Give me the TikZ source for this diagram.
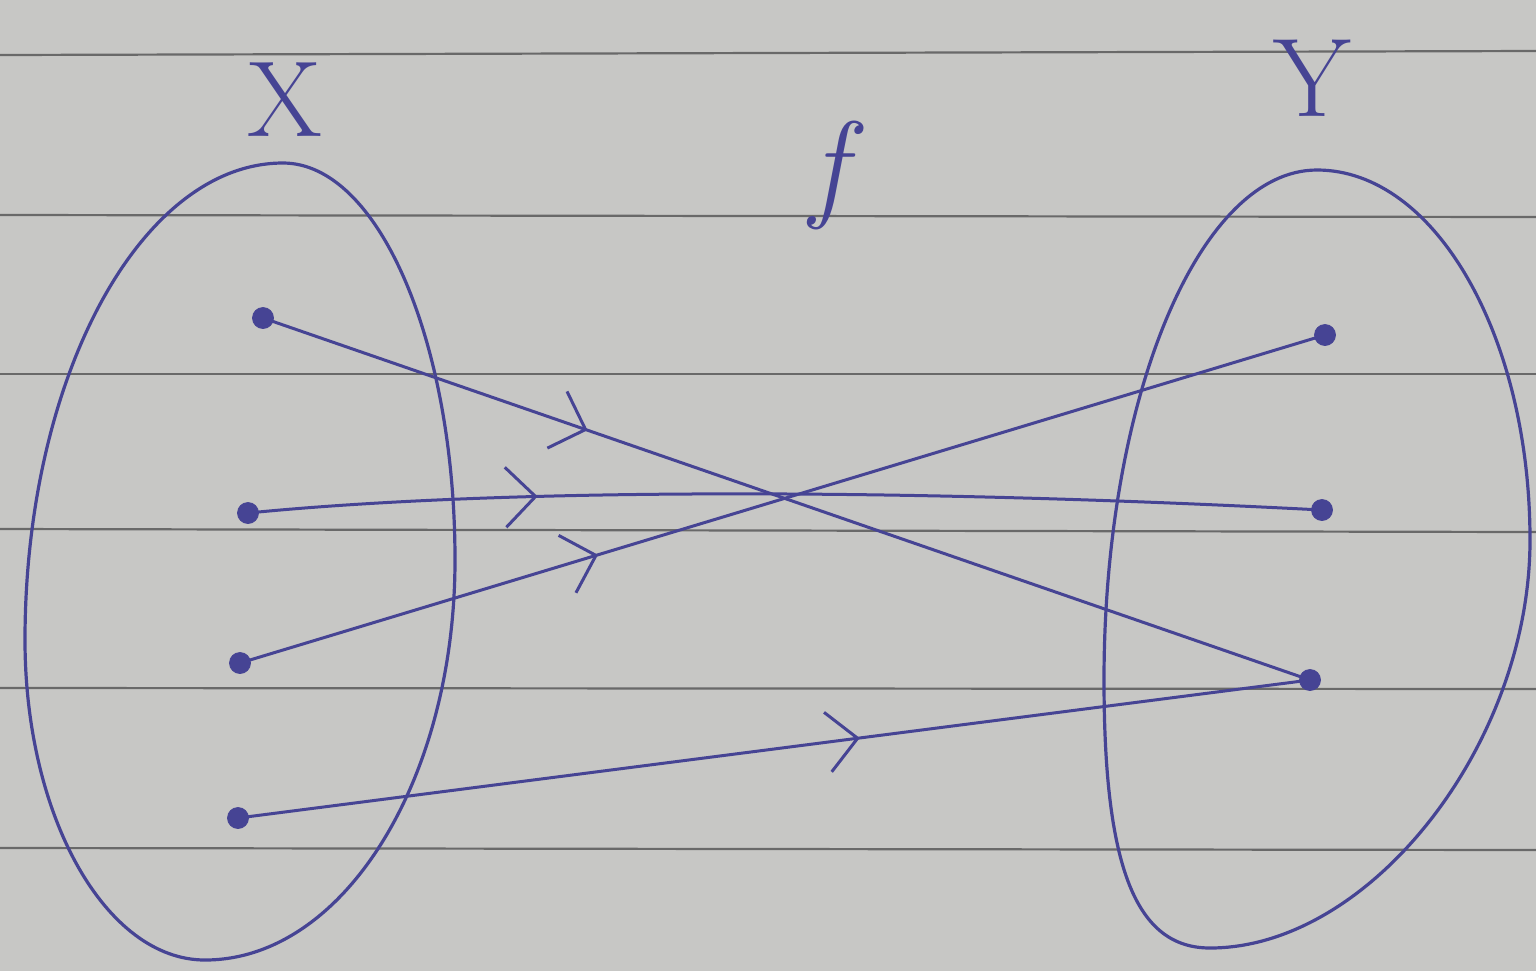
\documentclass[tikz,border=0pt]{standalone}
\usetikzlibrary{arrows.meta,decorations.markings}
\definecolor{paper}{RGB}{199,199,197}
\definecolor{rule}{RGB}{105,105,105}
\definecolor{ink}{RGB}{70,68,148}
\tikzset{
  ruleline/.style={draw=rule,line width=1.1pt},
  setshape/.style={draw=ink,line width=1.6pt},
  pt/.style={circle,fill=ink,draw=ink,minimum size=10.5pt,inner sep=0pt},
  lbl/.style={text=ink,inner sep=0pt},
  fn/.style={draw=ink,line width=1.5pt},
  midarrow/.style={postaction={decorate},decoration={markings,
    mark=at position #1 with {\arrow{Straight Barb[length=15pt,width=30pt,line width=1.5pt]}}}}
}
\begin{document}
\begin{tikzpicture}[x=0.5pt,y=-0.5pt]
\useasboundingbox (0,0) rectangle (1536,971);
\fill[paper] (0,0) rectangle (1536,971);
% ruled lines
\foreach \y/\d in {55/-4,215/2,374/0,529/3,688/1,848/2}{
  \draw[ruleline] (0,\y) -- (1536,\y+\d);
}
% set X
\draw[setshape] (283,163) .. controls (378,163) and (455,341) .. (455,560)
  .. controls (455,781) and (343,960) .. (205,960)
  .. controls (106,960) and (25,817) .. (25,640)
  .. controls (25,377) and (141,163) .. cycle;
% set Y
\draw[setshape] (1317,170) .. controls (1435,170) and (1530,336) .. (1530,540)
  .. controls (1530,744) and (1370,948) .. (1210,948)
  .. controls (1136,948) and (1104,868) .. (1104,680)
  .. controls (1104,398) and (1199,170) .. cycle;
% labels
\node[lbl,font=\fontsize{54}{54}\selectfont] (lx) at (285,100) {X};
\node[lbl,font=\fontsize{60}{60}\selectfont\itshape] (lf) at (828,175) {f};
\node[lbl,font=\fontsize{56}{56}\selectfont] (ly) at (1312,78) {Y};
% points
\node[pt] (a1) at (263,318) {};
\node[pt] (a2) at (248,513) {};
\node[pt] (a3) at (240,663) {};
\node[pt] (a4) at (238,818) {};
\node[pt] (b1) at (1325,335) {};
\node[pt] (b2) at (1322,510) {};
\node[pt] (b3) at (1310,680) {};
% mappings
\draw[fn,midarrow=0.31] (a1.center) -- (b3.center);
\draw[fn,midarrow=0.27] (a2.center) .. controls (500,488) and (900,488) .. (b2.center);
\draw[fn,midarrow=0.33] (a3.center) -- (b1.center);
\draw[fn,midarrow=0.58] (a4.center) -- (b3.center);
\end{tikzpicture}
\end{document}
